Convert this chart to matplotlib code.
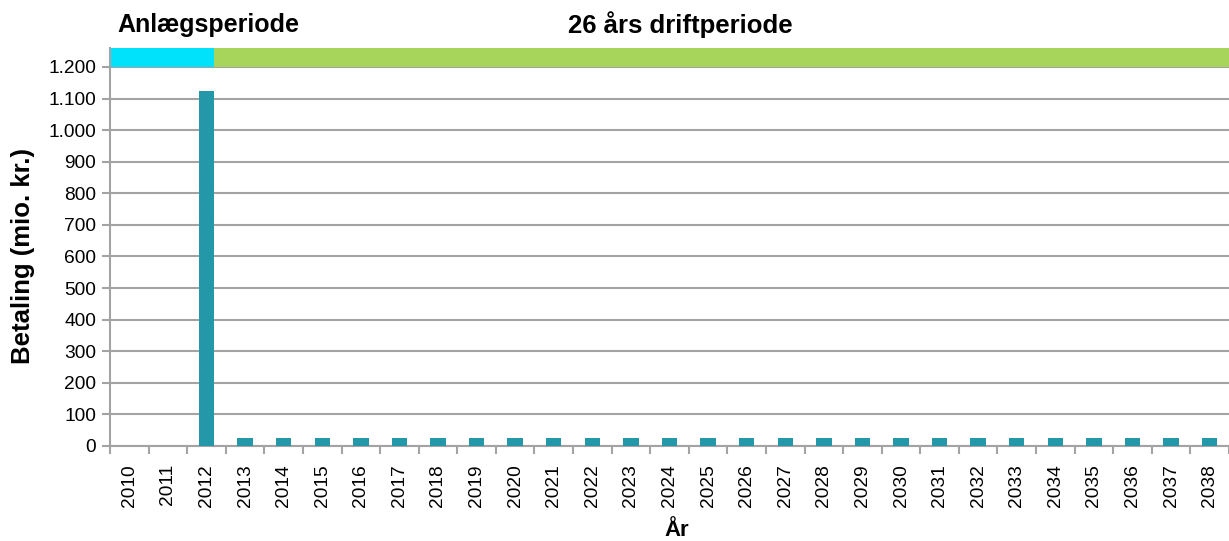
import matplotlib.pyplot as plt
import numpy as np
from matplotlib.ticker import FuncFormatter

plt.rcParams['font.family'] = ['Liberation Sans', 'DejaVu Sans']

years = list(range(2010, 2039))
payments = [0, 0, 1125] + [25] * 26
construction_years = [2010, 2011, 2012]
operation_years = list(range(2013, 2039))

bar_color = '#2497a8'
cyan = '#00e1fb'
green = '#a7d55c'
grid_gray = '#a3a3a3'

fig = plt.figure(figsize=(12.29, 5.41), dpi=100)
ax = fig.add_axes([110 / 1229, 95 / 541, 1 - 110 / 1229, (446 - 48) / 541])

x = np.arange(len(years))
bw = 0.4
ax.bar(x, payments, width=bw, color=bar_color, zorder=3)

# period band on top
split = years.index(construction_years[-1]) + bw / 2
ax.barh(1230, split + 0.5, left=-0.5, height=60, color=cyan, zorder=2)
ax.barh(1230, len(years), left=split, height=60, color=green, zorder=2)

ax.set_xlim(-0.5, 28.19)
ax.set_ylim(0, 1260)

ax.set_yticks(np.arange(0, 1201, 100))
ax.yaxis.set_major_formatter(FuncFormatter(lambda v, p: f'{int(v):,}'.replace(',', '.')))
ax.grid(axis='y', color=grid_gray, linewidth=1.5, zorder=1)

ax.set_xticks(np.arange(-0.5, len(years), 1))
ax.set_xticklabels([])
ax.set_xticks(x, minor=True)
ax.set_xticklabels([str(y) for y in years], minor=True, rotation=90)
ax.tick_params(axis='x', which='minor', length=0, labelsize=13.8, pad=13)
ax.tick_params(axis='x', which='major', length=6, width=1.5, color=grid_gray)
ax.tick_params(axis='y', length=6, width=1.5, color=grid_gray, labelsize=13.8, pad=4)

for s in ['top', 'right']:
    ax.spines[s].set_visible(False)
for s in ['left', 'bottom']:
    ax.spines[s].set_color(grid_gray)
    ax.spines[s].set_linewidth(1.5)

fig.text(23 / 1229, 1 - 256 / 541, 'Betaling (mio. kr.)', fontsize=18.5, fontweight='bold',
         rotation=90, ha='center', va='center')
fig.text(677 / 1229, 1 - 530 / 541, 'År', fontsize=16, fontweight='bold', ha='center', va='center')

fig.text(208 / 1229, 1 - 25 / 541, 'Anlægsperiode', fontsize=18, fontweight='bold', ha='center', va='center')
fig.text(680 / 1229, 1 - 25 / 541, '26 års driftperiode', fontsize=18.5, fontweight='bold', ha='center', va='center')

fig.savefig('out.png', dpi=100)
